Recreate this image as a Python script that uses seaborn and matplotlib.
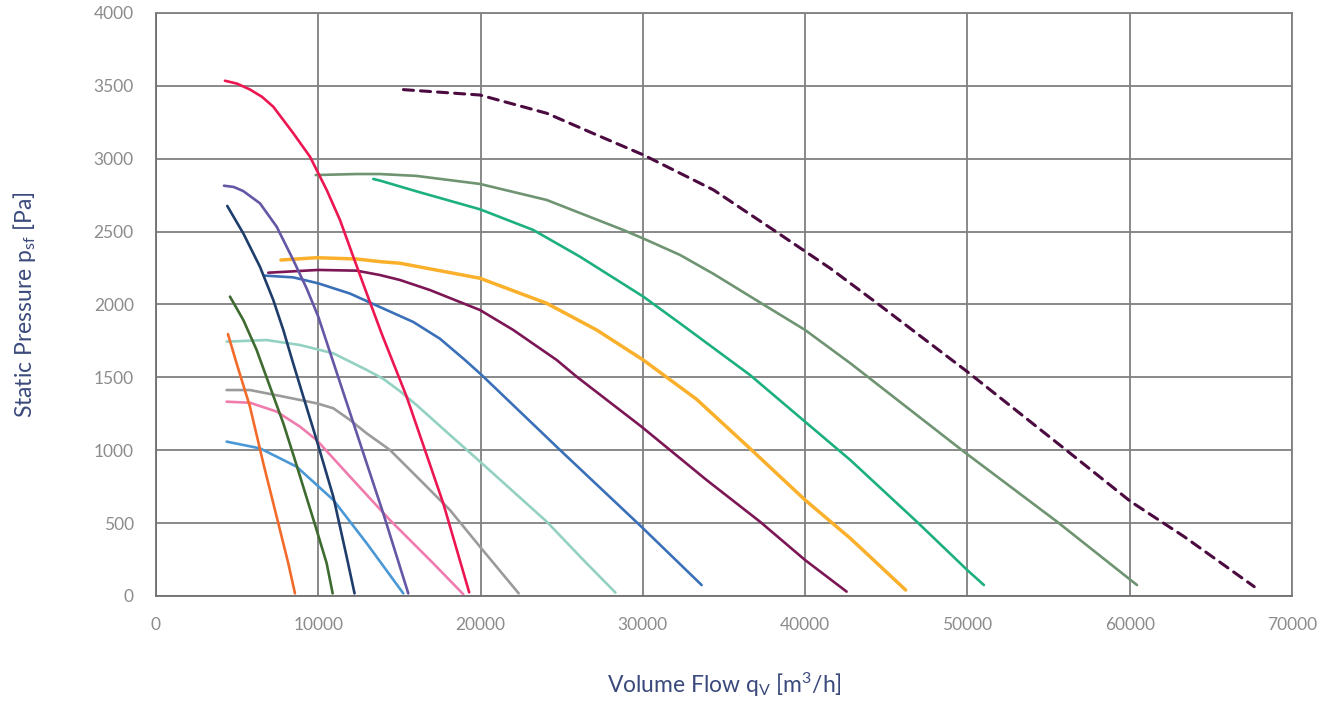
import matplotlib
matplotlib.use("Agg")
import matplotlib.pyplot as plt
import seaborn as sns
import pandas as pd

# ---- data ----
orange_x = [4437, 4966, 5792, 6614, 7437, 8155, 8565]
orange_y = [1797, 1597, 1299, 911, 544, 224, 18]

dgreen_x = [4560, 5381, 6203, 7025, 7847, 8565, 9900, 10519, 10888]
dgreen_y = [2054, 1894, 1688, 1436, 1185, 933, 453, 224, 18]

navy_x = [4394, 5381, 6408, 7228, 7847, 8361, 9079, 9900, 10929, 11749, 12236]
navy_y = [2676, 2488, 2259, 2031, 1825, 1631, 1368, 1070, 681, 270, 18]

purple_x = [4190, 4800, 5381, 6408, 7437, 8461, 9286, 10000, 11236, 12983, 14006, 15547]
purple_y = [2815, 2806, 2778, 2694, 2534, 2305, 2110, 1917, 1500, 911, 567, 18]

crimson_x = [4252, 5000, 5792, 6530, 7228, 8461, 9490, 10519, 11338, 12158, 12983, 13907, 15445, 17703, 19300]
crimson_y = [3535, 3515, 3475, 3425, 3357, 3175, 3014, 2786, 2580, 2328, 2077, 1800, 1368, 636, 25]

lblue_x = [4355, 6408, 7847, 8669, 10929, 12983, 15239]
lblue_y = [1059, 1013, 933, 887, 659, 362, 18]

pink_x = [4355, 5792, 7437, 8873, 9900, 11954, 14417, 17087, 18936]
pink_y = [1333, 1326, 1265, 1162, 1070, 819, 521, 224, 12]

gray_x = [4355, 5792, 7847, 9900, 10929, 11954, 12983, 14417, 16471, 18113, 19965, 22349]
gray_y = [1413, 1413, 1368, 1322, 1288, 1208, 1116, 1002, 774, 590, 338, 18]

teal_x = [4355, 6820, 8873, 10929, 12983, 14006, 15035, 16060, 18113, 19965, 24077, 26337, 28314]
teal_y = [1745, 1756, 1722, 1665, 1551, 1490, 1405, 1310, 1105, 922, 510, 247, 23]

blue_x = [6717, 8461, 10001, 11954, 13390, 15856, 17500, 19041, 20070, 24894, 29914, 33624]
blue_y = [2198, 2186, 2145, 2075, 2003, 1880, 1765, 1619, 1516, 1002, 475, 75]

maroon_x = [6922, 10001, 12366, 13803, 15035, 16884, 19965, 22017, 24694, 25919, 29914, 33924, 37217, 39993, 42556]
maroon_y = [2218, 2237, 2232, 2202, 2168, 2099, 1962, 1825, 1619, 1505, 1162, 796, 510, 247, 30]

yellow_x = [7702, 9900, 12366, 13803, 15035, 19965, 24077, 27156, 30028, 33308, 36700, 39993, 42782, 46195]
yellow_y = [2305, 2321, 2312, 2294, 2283, 2180, 2008, 1825, 1619, 1350, 1002, 659, 396, 41]

green_x = [13390, 13803, 16060, 19965, 23250, 26127, 30028, 32289, 36605, 39993, 42782, 46879, 49989, 51016]
green_y = [2861, 2850, 2776, 2653, 2511, 2328, 2054, 1871, 1516, 1196, 933, 510, 178, 75]

sage_x = [9842, 12366, 13803, 16060, 19965, 24077, 28796, 30000, 32289, 34352, 37424, 40000, 42782, 49783, 55520, 60450]
sage_y = [2888, 2895, 2895, 2882, 2827, 2717, 2511, 2454, 2340, 2210, 2000, 1825, 1597, 990, 510, 75]

dashed_x = [15248, 19965, 24077, 27160, 30037, 34352, 38051, 41549, 44441, 49989, 55951, 60071, 63358, 67672]
dashed_y = [3474, 3437, 3312, 3163, 3026, 2786, 2511, 2248, 2008, 1539, 1013, 647, 407, 64]

x_ticks = [0, 10000, 20000, 30000, 40000, 50000, 60000, 70000]
y_ticks = [0, 500, 1000, 1500, 2000, 2500, 3000, 3500, 4000]

series = [
    (sage_x, sage_y, "#6E9471", 1.9, "-"),
    (green_x, green_y, "#1DB07F", 1.9, "-"),
    (yellow_x, yellow_y, "#FBB02C", 2.5, "-"),
    (maroon_x, maroon_y, "#7C1655", 1.9, "-"),
    (blue_x, blue_y, "#3A70B8", 1.9, "-"),
    (teal_x, teal_y, "#93D1C2", 1.9, "-"),
    (gray_x, gray_y, "#9B9B9B", 1.9, "-"),
    (pink_x, pink_y, "#F07CAD", 1.9, "-"),
    (lblue_x, lblue_y, "#4A98D6", 1.9, "-"),
    (orange_x, orange_y, "#F26B2A", 1.9, "-"),
    (dgreen_x, dgreen_y, "#3E6B2F", 1.9, "-"),
    (navy_x, navy_y, "#1E3D6B", 1.9, "-"),
    (purple_x, purple_y, "#6656A6", 1.9, "-"),
    (crimson_x, crimson_y, "#EC1651", 1.9, "-"),
    (dashed_x, dashed_y, "#4B0A40", 2.2, "--"),
]

sns.set_style("white")
plt.rcParams["font.family"] = ["Lato", "DejaVu Sans"]
plt.rcParams["mathtext.default"] = "regular"

fig = plt.figure(figsize=(13.25, 7.01), dpi=100)
ax = fig.add_axes([0.1177, 0.1498, 0.9751 - 0.1177, 0.9815 - 0.1498])

for xs, ys, col, lw, ls in series:
    df = pd.DataFrame({"x": xs, "y": ys})
    sns.lineplot(data=df, x="x", y="y", color=col, linewidth=lw,
                 sort=False, estimator=None, ax=ax)
    l = ax.get_lines()[-1]
    l.set_solid_capstyle("round")
    l.set_solid_joinstyle("round")
    if ls == "--":
        l.set_dashes((3.3, 2.3))
        l.set_dash_capstyle("round")

ax.set_xlim(0, 70000)
ax.set_ylim(0, 4000)
ax.set_xticks(x_ticks)
ax.set_yticks(y_ticks)
ax.grid(True, color="#808080", linewidth=1.3)
ax.set_axisbelow(True)
for side in ["top", "right", "left", "bottom"]:
    ax.spines[side].set_color("#808080")
    ax.spines[side].set_linewidth(1.3)
ax.spines["left"].set_color("#707070")
ax.spines["bottom"].set_color("#707070")

ax.tick_params(axis="both", length=0, labelsize=12.5, labelcolor="#8C8C8C")
ax.tick_params(axis="y", pad=16)
ax.tick_params(axis="x", pad=15)

ax.set_xlabel("Volume Flow q$_V$ [m$^3$/h]", fontsize=16.5, color="#3B4A7C", labelpad=27)
ax.set_ylabel("Static Pressure p$_{sf}$ [Pa]", fontsize=16.5, color="#3B4A7C", labelpad=40)

fig.savefig("out.png", dpi=100)
